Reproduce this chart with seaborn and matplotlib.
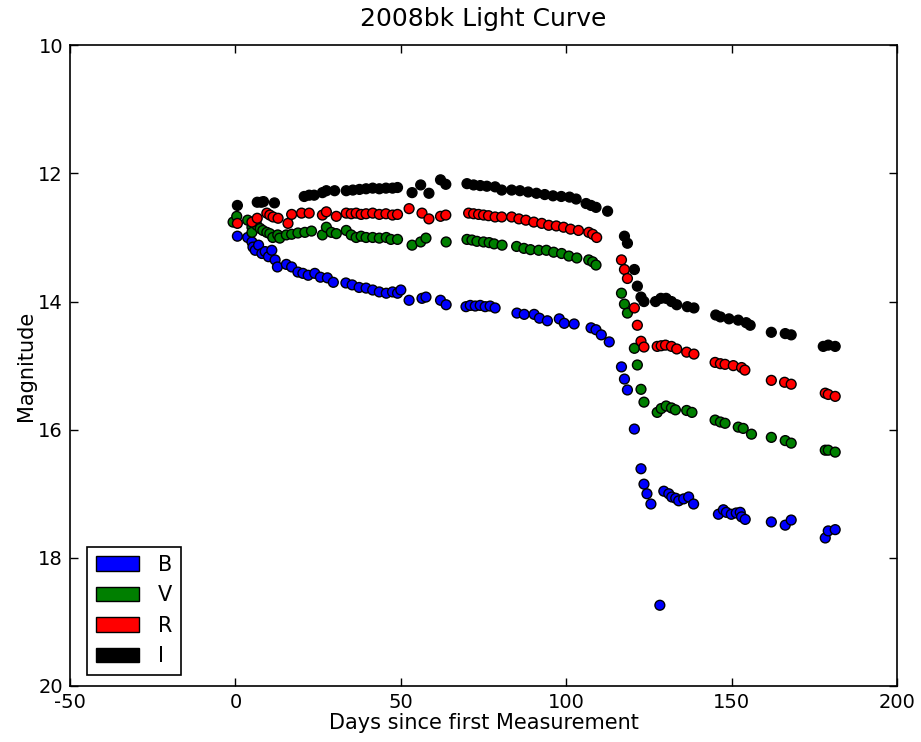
import numpy as np
import pandas as pd
import matplotlib
matplotlib.use("Agg")
import matplotlib.pyplot as plt
from matplotlib.patches import Patch
import seaborn as sns

# Light curve values (days, magnitude)
B_days = [0.6, 3.7, 5, 5.3, 6, 7, 8, 9, 10, 11,
          12, 12.7, 15.4, 17, 18.9, 20.4, 22, 24, 25.7, 27.8,
          29.6, 33.4, 35.3, 37.4, 39.5, 41.5, 43.5, 45.6, 47.5, 49,
          50, 52.5, 56.4, 57.6, 62, 63.7, 69.7, 71, 72.5, 74,
          75.5, 77, 78.5, 85.1, 87.3, 90.3, 91.9, 94.3, 97.9, 99.4,
          102.4, 107.5, 109, 110.6, 113, 116.7, 117.6, 118.5, 120.6, 122.6,
          123.5, 124.4, 125.6, 128.3, 129.5, 131, 131.9, 133.1, 134, 135.5,
          137, 138.5, 146, 147.5, 148.4, 149.9, 151.4, 152.6, 153, 154.1,
          162, 166.2, 168, 178.3, 179.2, 181.3]
B_mag = [12.98, 13.0, 13.07, 13.15, 13.2, 13.12, 13.25, 13.22, 13.3, 13.2,
         13.35, 13.46, 13.42, 13.46, 13.54, 13.56, 13.59, 13.56, 13.62, 13.63,
         13.7, 13.71, 13.74, 13.78, 13.79, 13.82, 13.85, 13.87, 13.85, 13.87,
         13.82, 13.98, 13.95, 13.93, 13.98, 14.05, 14.08, 14.06, 14.07, 14.06,
         14.08, 14.07, 14.1, 14.18, 14.2, 14.2, 14.26, 14.3, 14.27, 14.34,
         14.35, 14.41, 14.44, 14.52, 14.63, 15.02, 15.21, 15.38, 15.99, 16.61,
         16.85, 17.0, 17.16, 18.74, 16.96, 17.0, 17.05, 17.07, 17.11, 17.08,
         17.05, 17.16, 17.32, 17.25, 17.29, 17.32, 17.3, 17.29, 17.36, 17.4,
         17.44, 17.49, 17.41, 17.69, 17.58, 17.56]

V_days = [-0.7, 0.4, 3.7, 5, 5, 6.5, 7.5, 8.3, 9.5, 10.4,
          11.3, 12.8, 13.4, 15.4, 17, 18.9, 21, 23, 26.3, 27.5,
          29, 30.5, 33.5, 35, 36.5, 38, 39.5, 41.5, 43.5, 45.6,
          47, 49, 53.4, 56, 57.6, 63.7, 70, 71.5, 73, 75,
          76.7, 78.2, 80.6, 85, 87.2, 89.2, 91.7, 94, 96.2, 98.6,
          100.8, 103.2, 106.8, 108, 109, 116.7, 117.6, 118.5, 120.6, 121.5,
          122.6, 123.5, 127.5, 128.7, 130.2, 131.8, 133, 136.4, 138, 145,
          146.6, 148, 152, 153.5, 156, 162, 166.2, 168, 178.3, 179.2,
          181.3]
V_mag = [12.76, 12.67, 12.73, 12.84, 12.92, 12.81, 12.86, 12.89, 12.92, 12.94,
         13.0, 12.96, 13.01, 12.96, 12.95, 12.93, 12.92, 12.9, 12.96, 12.84,
         12.92, 12.94, 12.89, 12.96, 13.0, 12.98, 13.0, 13.0, 13.01, 13.0,
         13.03, 13.03, 13.12, 13.07, 13.01, 13.07, 13.03, 13.04, 13.06, 13.07,
         13.08, 13.1, 13.12, 13.14, 13.17, 13.19, 13.2, 13.2, 13.23, 13.25,
         13.29, 13.32, 13.35, 13.38, 13.43, 13.87, 14.04, 14.18, 14.73, 14.99,
         15.37, 15.57, 15.73, 15.67, 15.63, 15.66, 15.69, 15.7, 15.73, 15.85,
         15.88, 15.9, 15.96, 15.98, 16.07, 16.12, 16.17, 16.21, 16.32, 16.32,
         16.35]

R_days = [0.6, 5, 6.6, 9.5, 10.4, 11.4, 12.9, 15.9, 17, 20,
          22.3, 26.3, 27.5, 30.5, 33.5, 35, 36.5, 38, 39.5, 41.5,
          43.5, 45.5, 47.5, 49, 52.5, 56.4, 58.5, 62, 63.6, 70.5,
          72, 73.5, 75, 76.5, 78.5, 80.5, 83.5, 85.7, 87.8, 90.2,
          92.6, 94.7, 97, 99.2, 101.3, 103.7, 106.8, 108, 109.2, 116.7,
          117.6, 118.5, 120.6, 121.5, 122.6, 123.5, 127.5, 128.7, 130, 131.8,
          133.4, 136.4, 138.6, 145, 146.6, 148, 150.5, 153, 154, 162,
          166, 168, 178.3, 179.2, 181.3]
R_mag = [12.78, 12.76, 12.7, 12.62, 12.65, 12.68, 12.7, 12.78, 12.64, 12.62,
         12.62, 12.65, 12.6, 12.67, 12.62, 12.63, 12.62, 12.64, 12.63, 12.62,
         12.64, 12.63, 12.65, 12.64, 12.55, 12.62, 12.71, 12.67, 12.65, 12.62,
         12.63, 12.64, 12.65, 12.66, 12.68, 12.68, 12.68, 12.71, 12.73, 12.76,
         12.78, 12.81, 12.82, 12.84, 12.87, 12.89, 12.92, 12.95, 13.0, 13.35,
         13.5, 13.64, 14.1, 14.37, 14.62, 14.71, 14.7, 14.69, 14.68, 14.7,
         14.74, 14.79, 14.82, 14.95, 14.97, 14.98, 15.0, 15.03, 15.07, 15.23,
         15.26, 15.29, 15.43, 15.45, 15.48]

I_days = [0.6, 6.6, 7.8, 8.5, 11.8, 20.8, 22.3, 23.8, 26.3, 27.5,
          30, 33.5, 35.5, 37.5, 39.5, 41.5, 43.5, 45.5, 47.5, 49,
          53.4, 56, 58.5, 62, 63.6, 70, 72, 74, 76, 78.5,
          80.5, 83.5, 86, 88.5, 91, 93.5, 96, 98.5, 101, 103,
          106, 107.5, 109, 112.5, 117.6, 118.5, 120.6, 121.5, 122.6, 123.5,
          127, 128.6, 130.2, 131.8, 133.4, 136.6, 138.6, 145.2, 146.6, 149.2,
          152, 154.4, 155.6, 162, 166.2, 168, 177.7, 179.2, 181.3]
I_mag = [12.5, 12.45, 12.45, 12.44, 12.46, 12.36, 12.34, 12.34, 12.3, 12.27,
         12.27, 12.27, 12.26, 12.25, 12.24, 12.23, 12.24, 12.23, 12.23, 12.22,
         12.3, 12.18, 12.31, 12.1, 12.17, 12.16, 12.18, 12.19, 12.2, 12.21,
         12.26, 12.26, 12.27, 12.29, 12.31, 12.33, 12.35, 12.36, 12.37, 12.4,
         12.47, 12.5, 12.53, 12.59, 12.98, 13.09, 13.5, 13.76, 13.93, 14.0,
         14.0, 13.95, 13.95, 14.0, 14.05, 14.08, 14.1, 14.21, 14.24, 14.27,
         14.29, 14.33, 14.37, 14.48, 14.5, 14.52, 14.7, 14.68, 14.7]

bands = ["B", "V", "R", "I"]
colors = {"B": "#0000ff", "V": "#007f00", "R": "#ff0000", "I": "#000000"}

frames = []
for b, d, m in [("B", B_days, B_mag), ("V", V_days, V_mag),
                ("R", R_days, R_mag), ("I", I_days, I_mag)]:
    frames.append(pd.DataFrame({"day": d, "mag": m, "band": b}))
df = pd.concat(frames, ignore_index=True)

plt.rcParams["font.family"] = ["DejaVu Sans"]
plt.rcParams["axes.unicode_minus"] = False
plt.rcParams["xtick.direction"] = "in"
plt.rcParams["ytick.direction"] = "in"

fig = plt.figure(figsize=(9.21, 7.42), dpi=100)
ax = fig.add_axes([0.076, 0.0755, 0.898, 0.8635])

sns.scatterplot(data=df, x="day", y="mag", hue="band", palette=colors,
                hue_order=bands, s=50, edgecolor="black", linewidth=1,
                legend=False, ax=ax, zorder=3)

ax.set_xlim(-50, 200)
ax.set_ylim(20, 10)
ax.set_xticks([-50, 0, 50, 100, 150, 200])
ax.set_yticks([10, 12, 14, 16, 18, 20])
ax.tick_params(labelsize=14, top=True, right=True, length=6, width=1, pad=5)
for sp in ax.spines.values():
    sp.set_linewidth(1.2)

ax.set_title("2008bk Light Curve", fontsize=18, pad=14)
ax.set_xlabel("Days since first Measurement", fontsize=15, labelpad=1)
ax.set_ylabel("Magnitude", fontsize=15, labelpad=2)

handles = [Patch(facecolor=colors[b], edgecolor="black", label=b) for b in bands]
leg = ax.legend(handles=handles, loc="lower left", bbox_to_anchor=(0.007, 0.0),
                fontsize=15, fancybox=False, framealpha=1, edgecolor="black",
                handlelength=2.1, handletextpad=0.9, labelspacing=0.5,
                borderaxespad=0.55)
leg.get_frame().set_linewidth(1.2)

fig.savefig("out.png", dpi=100)
